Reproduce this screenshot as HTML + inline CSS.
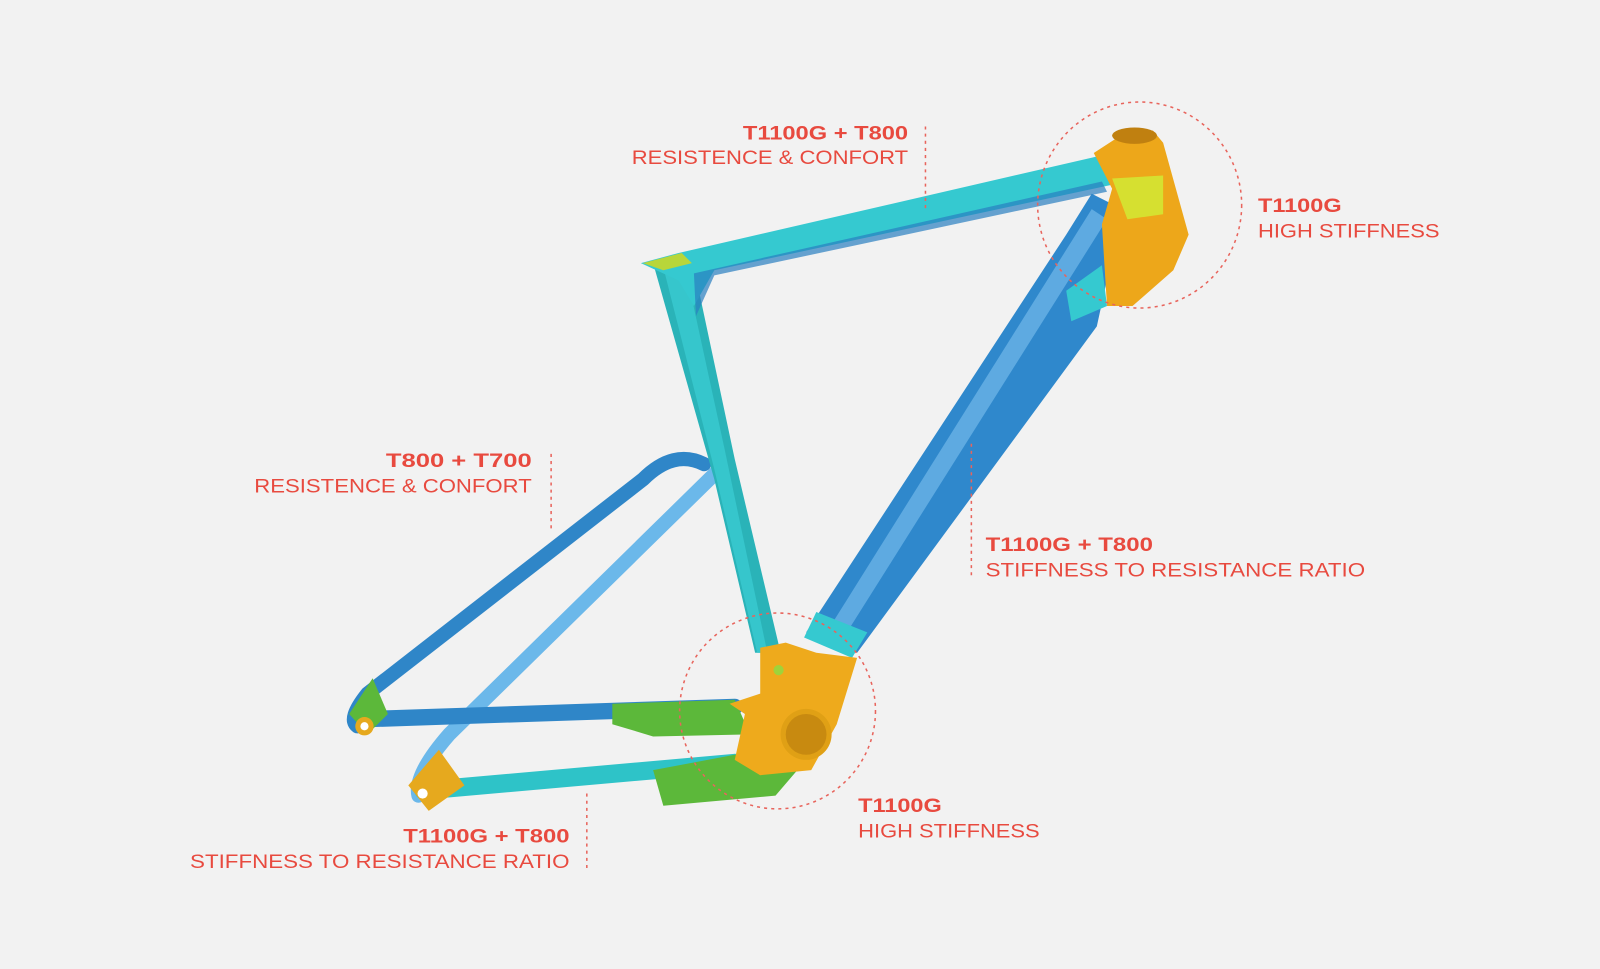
<!DOCTYPE html>
<html><head><meta charset="utf-8"><style>
html,body{margin:0;padding:0;background:#f2f2f2;}
svg{display:block;}
text{font-family:"Liberation Sans",sans-serif;fill:#e84a3f;font-size:19px;}
.b{font-weight:bold;}
</style></head><body>
<svg width="1600" height="969" viewBox="0 0 1568 950" xmlns="http://www.w3.org/2000/svg">
<rect width="1568" height="950" fill="#f2f2f2"/>
<!-- seat stays -->
<path d="M690,455 Q660,440 630,470 L360,680 Q340,705 350,712" stroke="#2f86c8" stroke-width="14" fill="none" stroke-linecap="round"/>
<path d="M703,462 L440,720 Q405,760 410,780" stroke="#6bb8ea" stroke-width="14" fill="none" stroke-linecap="round"/>
<!-- chain stays -->
<path d="M360,705 L720,693" stroke="#2f86c8" stroke-width="16" fill="none" stroke-linecap="round"/>
<path d="M600,690 L720,686 L735,720 L640,722 L600,710 Z" fill="#5cb83a"/>
<path d="M415,775 L720,748" stroke="#2ec3c8" stroke-width="18" fill="none" stroke-linecap="round"/>
<path d="M640,755 L720,740 L790,745 L760,780 L650,790 Z" fill="#5cb83a"/>
<!-- dropouts -->
<path d="M342,700 L365,665 L380,700 L360,720 Z" fill="#5cb83a"/>
<circle cx="357" cy="712" r="9" fill="#e6a91e"/><circle cx="357" cy="712" r="4" fill="#fff"/>
<path d="M400,770 L430,735 L455,770 L420,795 Z" fill="#e6a91e"/>
<circle cx="414" cy="778" r="5" fill="#fff"/>
<!-- seat tube -->
<path d="M640,258 L680,262 L720,450 L765,640 L740,640 L700,470 Z" fill="#2ab3b8"/>
<path d="M650,262 L672,265 L710,440 L752,640 L742,640 L700,460 Z" fill="#36c6cc"/>
<!-- down tube -->
<path d="M1070,190 L1100,205 L1075,320 L840,640 L790,620 L1045,230 Z" fill="#2f88cc"/>
<path d="M1070,205 L1085,215 L830,620 L815,612 Z" fill="#7ec2ee" opacity="0.6"/>
<path d="M800,600 L850,620 L835,645 L788,625 Z" fill="#35c9d0"/>
<path d="M1045,285 L1080,260 L1085,300 L1050,315 Z" fill="#35c9d0"/>
<!-- top tube -->
<path d="M628,258 L665,248 L1090,150 L1095,180 L700,265 L680,300 L665,275 Z" fill="#35c9d0"/>
<path d="M680,268 L1080,178 L1085,188 L700,270 L682,310 Z" fill="#2a7fc0" opacity="0.7"/>
<path d="M630,258 L668,248 L678,258 L650,265 Z" fill="#b8d63a"/>
<!-- head tube -->
<path d="M1072,150 L1095,135 L1130,128 L1140,140 L1165,230 L1150,265 L1110,300 L1085,300 L1080,220 L1090,185 Z" fill="#eda71a"/>
<ellipse cx="1112" cy="133" rx="22" ry="8" fill="#c08010"/>
<path d="M1090,175 L1140,172 L1140,210 L1105,215 Z" fill="#d6e030"/>
<!-- bottom bracket -->
<path d="M745,635 L770,630 L800,640 L840,645 L820,710 L795,755 L745,760 L720,745 L730,700 L715,690 L745,680 Z" fill="#eeaa1c"/>
<circle cx="790" cy="720" r="25" fill="#e0a015"/>
<circle cx="790" cy="720" r="20" fill="#c88a10"/>
<circle cx="763" cy="657" r="5" fill="#9fd33a"/>
<!-- circles -->
<ellipse cx="1117" cy="201" rx="100" ry="101" fill="none" stroke="#e8645c" stroke-width="1.5" stroke-dasharray="3,4"/>
<ellipse cx="762" cy="697" rx="96" ry="96" fill="none" stroke="#e8645c" stroke-width="1.5" stroke-dasharray="3,4"/>
<!-- dashed leaders -->
<g stroke="#e8645c" stroke-width="1.5" stroke-dasharray="3,4">
<line x1="907" y1="124" x2="907" y2="205"/>
<line x1="540" y1="445" x2="540" y2="520"/>
<line x1="952" y1="435" x2="952" y2="567"/>
<line x1="575" y1="778" x2="575" y2="852"/>
</g>
<!-- labels -->
<text x="728" y="137" class="b" textLength="162" lengthAdjust="spacingAndGlyphs">T1100G + T800</text>
<text x="619" y="161" textLength="271" lengthAdjust="spacingAndGlyphs">RESISTENCE &amp; CONFORT</text>
<text x="1233" y="208" class="b" textLength="82" lengthAdjust="spacingAndGlyphs">T1100G</text>
<text x="1233" y="233" textLength="178" lengthAdjust="spacingAndGlyphs">HIGH STIFFNESS</text>
<text x="378" y="458" class="b" textLength="143" lengthAdjust="spacingAndGlyphs">T800 + T700</text>
<text x="249" y="483" textLength="272" lengthAdjust="spacingAndGlyphs">RESISTENCE &amp; CONFORT</text>
<text x="966" y="540" class="b" textLength="164" lengthAdjust="spacingAndGlyphs">T1100G + T800</text>
<text x="966" y="565" textLength="372" lengthAdjust="spacingAndGlyphs">STIFFNESS TO RESISTANCE RATIO</text>
<text x="841" y="796" class="b" textLength="82" lengthAdjust="spacingAndGlyphs">T1100G</text>
<text x="841" y="821" textLength="178" lengthAdjust="spacingAndGlyphs">HIGH STIFFNESS</text>
<text x="395" y="826" class="b" textLength="163" lengthAdjust="spacingAndGlyphs">T1100G + T800</text>
<text x="186" y="851" textLength="372" lengthAdjust="spacingAndGlyphs">STIFFNESS TO RESISTANCE RATIO</text>
</svg>
</body></html>
